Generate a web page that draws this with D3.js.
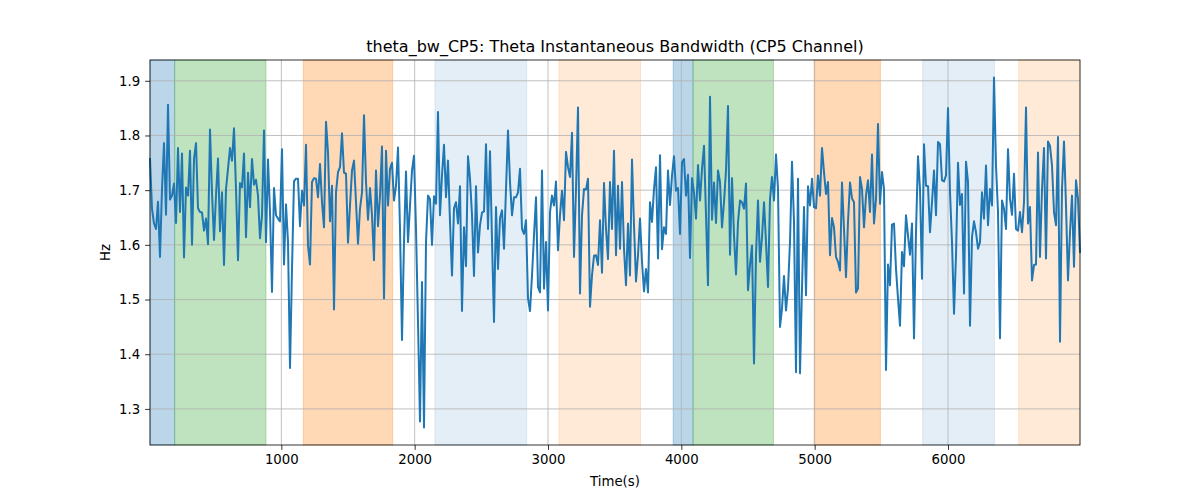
<!DOCTYPE html>
<html>
<head>
<meta charset="utf-8">
<script src="https://cdn.jsdelivr.net/npm/d3@7"></script>
<style>
  body { margin: 0; background: #fff; }
  svg text { font-family: "DejaVu Sans", sans-serif; }
</style>
</head>
<body>
<svg id="chart" width="1200" height="500"></svg>
<script>
// sample spacing of the series (seconds)
const timeStep = 15;

// Theta bandwidth values, Hz, one per sample
const bwValues = [
  1.757,1.666,1.639,1.629,1.679,1.578,1.702,1.786,1.655,1.856,
  1.683,1.690,1.712,1.640,1.777,1.660,1.767,1.577,1.705,1.690,
  1.772,1.600,1.757,1.786,1.667,1.660,1.659,1.626,1.648,1.601,
  1.811,1.695,1.609,1.690,1.758,1.625,1.696,1.563,1.702,1.739,
  1.777,1.754,1.813,1.702,1.572,1.713,1.705,1.767,1.614,1.732,
  1.669,1.757,1.710,1.719,1.690,1.612,
  1.654,1.809,1.605,1.756,1.660,1.514,1.704,1.654,1.648,1.643,
  1.775,1.564,1.674,1.605,1.375,1.556,1.716,1.721,1.721,1.634,
  1.699,1.672,1.783,1.599,1.564,1.715,1.722,1.721,1.687,1.748,
  1.678,1.632,1.825,1.769,1.643,1.708,1.482,1.696,1.733,1.742,
  1.804,1.732,1.730,1.604,1.672,1.736,1.754,1.678,1.602,1.666,
  1.696,1.837,1.715,1.646,1.704,1.654,1.572,1.736,1.634,1.690,
  1.780,1.502,1.772,1.672,1.739,1.750,1.681,1.708,1.778,1.629,
  1.426,1.605,1.734,1.605,1.672,1.736,1.763,1.629,1.459,1.277,
  1.532,1.266,1.605,1.690,1.684,1.600,1.689,1.675,1.843,1.654,
  1.727,1.783,1.687,1.754,1.642,1.544,1.667,1.678,1.639,1.707,
  1.479,1.632,1.561,1.762,1.721,1.654,1.543,1.707,1.586,1.636,
  1.659,1.661,1.784,1.629,1.771,1.608,1.459,1.669,1.556,1.649,
  1.663,1.593,1.702,1.809,1.715,1.654,1.687,1.687,1.696,1.739,
  1.629,1.620,1.645,1.502,1.479,1.544,1.617,1.687,1.523,1.513,
  1.736,1.520,1.605,1.480,1.660,1.690,1.672,1.716,1.590,1.654,
  1.699,1.645,1.770,1.742,1.724,1.805,1.578,1.702,1.851,1.511,
  1.654,1.702,1.701,1.721,1.487,1.544,1.580,1.581,1.563,1.645,
  1.549,1.713,1.629,1.574,1.715,1.629,1.772,1.581,1.708,1.593,
  1.715,1.593,1.526,1.639,1.544,1.756,1.636,1.533,1.581,1.648,
  1.569,1.515,1.556,1.513,1.678,1.642,1.702,1.742,1.575,1.764,
  1.592,1.632,1.620,1.736,1.673,1.727,1.762,1.699,1.704,1.620,
  1.751,1.757,1.690,1.728,1.576,1.722,1.696,1.648,1.746,1.681,
  1.739,1.781,1.654,1.526,1.871,1.646,1.714,1.640,1.736,1.715,
  1.632,1.678,1.736,1.854,1.582,1.722,1.617,1.546,1.642,1.681,
  1.678,1.666,1.712,1.517,1.563,1.599,1.383,1.581,1.681,1.569,
  1.614,1.678,1.605,1.523,1.684,1.724,1.681,1.765,1.702,1.450,
  1.484,1.543,1.480,1.520,1.605,1.752,1.642,1.367,1.721,1.365,
  1.520,1.669,1.508,1.707,1.672,1.721,1.669,1.667,1.727,1.690,
  1.777,1.733,1.693,1.715,1.581,1.649,1.632,1.578,1.569,1.553,
  1.714,1.629,1.541,1.642,1.714,1.685,1.678,1.513,1.520,1.724,
  1.702,1.632,1.690,1.718,1.660,1.765,1.639,1.684,1.821,1.675,
  1.733,1.702,1.371,1.564,1.526,1.637,1.639,1.556,1.502,1.452,
  1.587,1.561,1.654,1.617,1.582,1.639,1.429,1.623,1.762,1.702,
  1.538,1.784,1.708,1.707,1.623,1.678,1.736,1.654,1.788,1.784,
  1.718,1.716,1.727,1.850,1.696,1.605,1.474,1.581,1.750,1.673,
  1.693,1.511,1.752,1.715,1.452,1.614,1.643,1.623,1.593,1.605,
  1.696,1.648,1.745,1.636,1.702,1.672,1.906,1.745,1.660,1.429,
  1.681,1.666,1.629,1.775,1.684,1.655,1.730,1.629,1.626,1.660,
  1.623,1.678,1.851,1.639,1.669,1.535,1.563,1.564,1.769,1.578,
  1.702,1.777,1.575,1.789,1.781,1.745,1.660,1.636,1.797,1.423,
  1.702,1.789,1.672,1.535,1.623,1.690,1.560,1.718,1.684,1.587
];

// shaded segments: start (s), end (s), kind
const bandStarts = [15, 200, 1165, 2152, 3082, 3939, 4088, 4995, 5810, 6530];
const bandEnds   = [200, 885, 1835, 2840, 3694, 4088, 4691, 5493, 6348, 6990];
const bandKinds  = ["a", "b", "c", "d", "e", "a", "b", "c", "d", "e"];

const xTicks = [1000, 2000, 3000, 4000, 5000, 6000];
const yTicks = [1.3, 1.4, 1.5, 1.6, 1.7, 1.8, 1.9];

const titleText = "theta_bw_CP5: Theta Instantaneous Bandwidth (CP5 Channel)";

const kindColor = { a: "#1f77b4", b: "#2ca02c", c: "#ff7f0e", d: "#1f77b4", e: "#ff7f0e" };
const kindAlpha = { a: 0.3, b: 0.3, c: 0.3, d: 0.12, e: 0.16 };

const margin = { top: 60, right: 120, bottom: 55, left: 150 };
const width = 1200, height = 500;

const svg = d3.select("#chart");

var points = bwValues.map(function(v, i) {
    return { t: (i + 1) * timeStep, v: v };
});

var bands = bandStarts.map(function(s, i) {
    return { s: s, e: bandEnds[i], k: bandKinds[i] };
});

const x = d3.scaleLinear()
    .domain(d3.extent(points, d => d.t))
    .range([margin.left, width - margin.right]);

var yMin = d3.min(bwValues), yMax = d3.max(bwValues);
var pad = (yMax - yMin) * 0.05;
const y = d3.scaleLinear()
    .domain([yMin - pad, yMax + pad])
    .range([height - margin.bottom, margin.top]);

// bands
svg.append("g").selectAll("rect")
    .data(bands)
    .enter().append("rect")
    .attr("x", d => x(d.s))
    .attr("y", margin.top)
    .attr("width", d => x(d.e) - x(d.s))
    .attr("height", height - margin.bottom - margin.top)
    .attr("fill", d => kindColor[d.k])
    .attr("fill-opacity", d => kindAlpha[d.k])
    .attr("stroke", d => kindColor[d.k])
    .attr("stroke-opacity", d => kindAlpha[d.k])
    .attr("stroke-width", 1);

// grid
var grid = svg.append("g");
grid.selectAll("line.gx")
    .data(xTicks)
    .enter().append("line")
    .attr("x1", d => x(d)).attr("x2", d => x(d))
    .attr("y1", margin.top).attr("y2", height - margin.bottom)
    .attr("stroke", "#b0b0b0").attr("stroke-width", 0.8);
grid.selectAll("line.gy")
    .data(yTicks)
    .enter().append("line")
    .attr("x1", margin.left).attr("x2", width - margin.right)
    .attr("y1", d => y(d)).attr("y2", d => y(d))
    .attr("stroke", "#b0b0b0").attr("stroke-width", 0.8);

// series line
var line = d3.line()
    .x(d => x(d.t))
    .y(d => y(d.v));

svg.append("path")
    .datum(points)
    .attr("fill", "none")
    .attr("stroke", "#1f77b4")
    .attr("stroke-width", 2)
    .attr("stroke-linejoin", "round")
    .attr("stroke-linecap", "square")
    .attr("d", line);

// axes
const xAxis = d3.axisBottom(x).tickValues(xTicks).tickSize(4.9).tickPadding(4.9).tickFormat(d3.format("d"));
const yAxis = d3.axisLeft(y).tickValues(yTicks).tickSize(4.9).tickPadding(4.9).tickFormat(d3.format(".1f"));

var gx = svg.append("g")
    .attr("transform", "translate(0," + (height - margin.bottom) + ")")
    .call(xAxis);
var gy = svg.append("g")
    .attr("transform", "translate(" + margin.left + ",0)")
    .call(yAxis);

[gx, gy].forEach(function(g) {
    g.select(".domain").remove();
    g.selectAll(".tick line").attr("stroke", "#000").attr("stroke-width", 0.8);
    g.selectAll(".tick text")
        .attr("fill", "#000")
        .style("font-size", "13.3px")
        .style("font-family", "DejaVu Sans, sans-serif");
});

// frame
svg.append("rect")
    .attr("x", margin.left)
    .attr("y", margin.top)
    .attr("width", width - margin.left - margin.right)
    .attr("height", height - margin.top - margin.bottom)
    .attr("fill", "none")
    .attr("stroke", "#000")
    .attr("stroke-width", 0.8);

svg.append("text")
    .attr("x", (margin.left + width - margin.right) / 2)
    .attr("y", margin.top - 8)
    .attr("text-anchor", "middle")
    .style("font-size", "16px")
    .text(titleText);

svg.append("text")
    .attr("x", (margin.left + width - margin.right) / 2)
    .attr("y", 486)
    .attr("text-anchor", "middle")
    .style("font-size", "13.3px")
    .text("Time(s)");

svg.append("text")
    .attr("transform", "translate(110," + ((margin.top + height - margin.bottom) / 2) + ") rotate(-90)")
    .attr("text-anchor", "middle")
    .style("font-size", "13.3px")
    .text("Hz");
</script>
</body>
</html>
